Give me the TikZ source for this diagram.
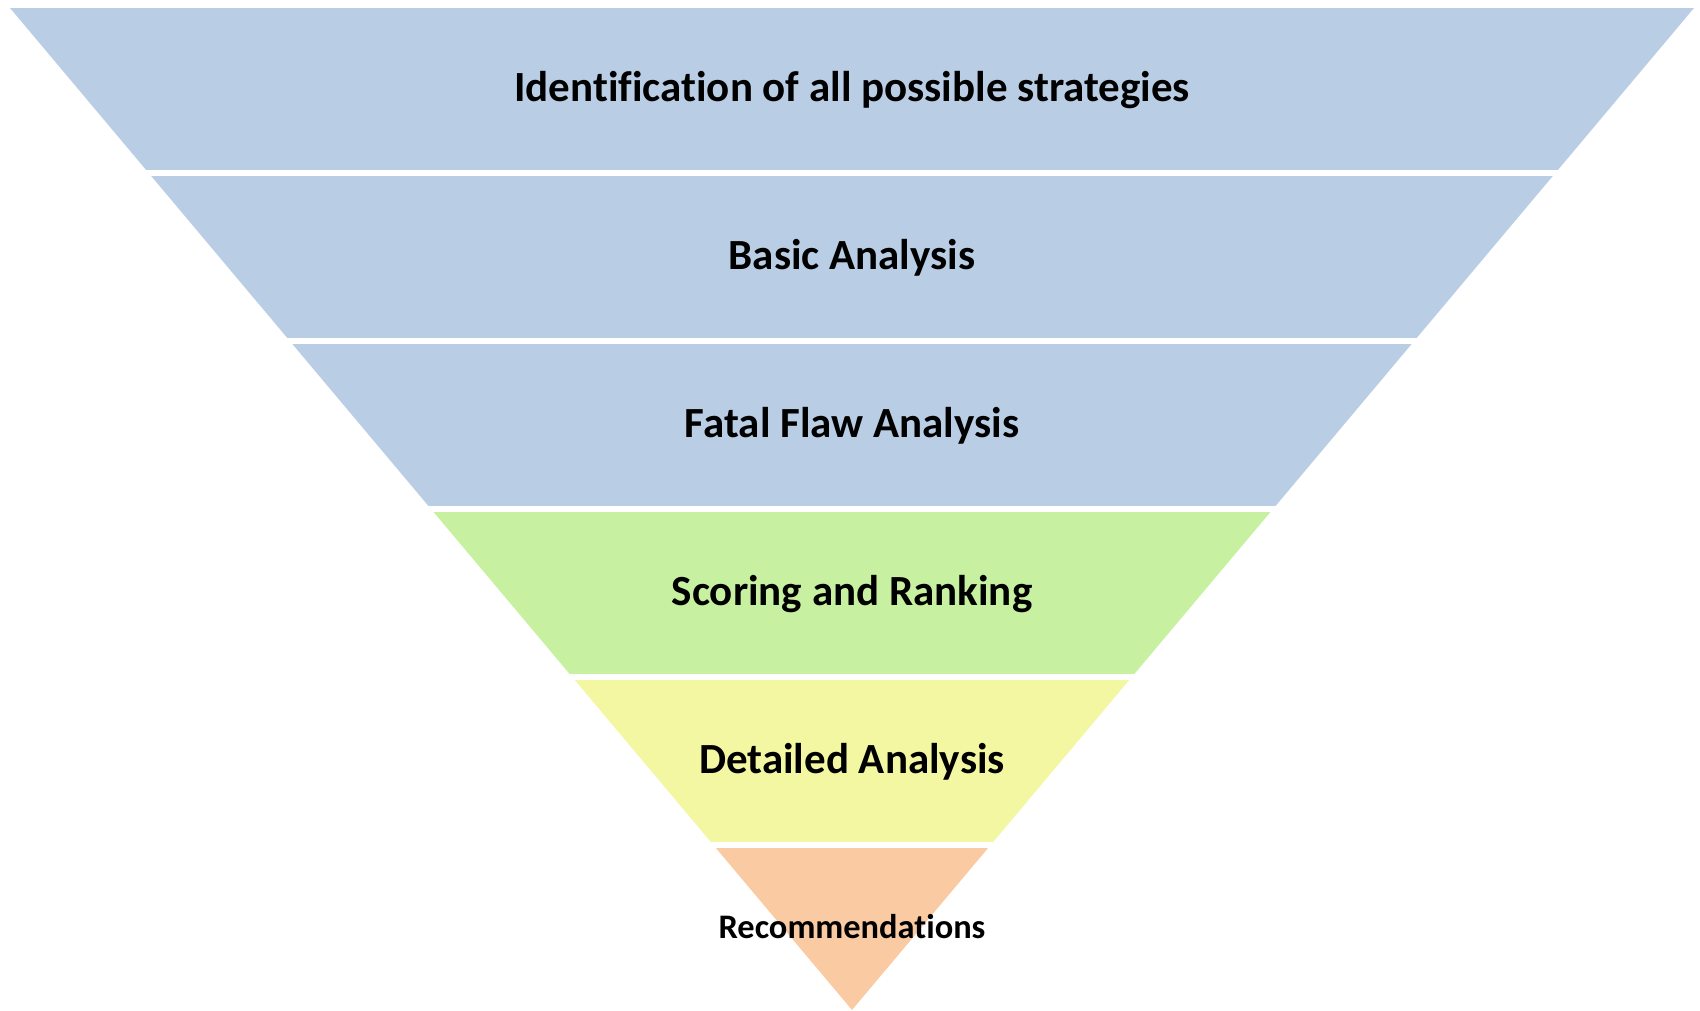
\documentclass[tikz,border=0pt]{standalone}
\usepackage{fontspec}
\setmainfont[Ligatures=NoCommon]{Carlito}
\usepackage{xcolor}
\definecolor{bandblue}{RGB}{185,205,228}
\definecolor{bandgreen}{RGB}{199,241,160}
\definecolor{bandyellow}{RGB}{244,247,162}
\definecolor{bandorange}{RGB}{250,203,162}
\tikzset{
  stagelabel/.style={anchor=base, inner sep=0pt, font=\fontsize{43}{50}\selectfont\bfseries},
  lastlabel/.style={anchor=base, inner sep=0pt, font=\fontsize{34.4}{40}\selectfont\bfseries}
}

\begin{document}
\begin{tikzpicture}[x=1pt,y=1pt]
\useasboundingbox (0,0) rectangle (1700,1011);
%--------------------------------------------------- funnel bands
\begin{scope}
\clip (10,1003) -- (1694,1003) -- (852,1) -- cycle;
\fill[bandblue]   (0,841) rectangle (1700,1003);
\fill[bandblue]   (0,673) rectangle (1700,835);
\fill[bandblue]   (0,505) rectangle (1700,667);
\fill[bandgreen]  (0,337) rectangle (1700,499);
\fill[bandyellow] (0,169) rectangle (1700,331);
\fill[bandorange] (0,0)   rectangle (1700,163);
\end{scope}
%--------------------------------------------------- labels
\node[stagelabel] (ident)  at (852,909) {Identification of all possible strategies};
\node[stagelabel] (basic)  at (852,741) {Basic Analysis};
\node[stagelabel] (fatal)  at (852,573) {Fatal Flaw Analysis};
\node[stagelabel] (score)  at (852,405) {Scoring and Ranking};
\node[stagelabel] (detail) at (852,237) {Detailed Analysis};
\node[lastlabel]  (recomm) at (852,72)  {Recommendations};
\end{tikzpicture}
\end{document}
